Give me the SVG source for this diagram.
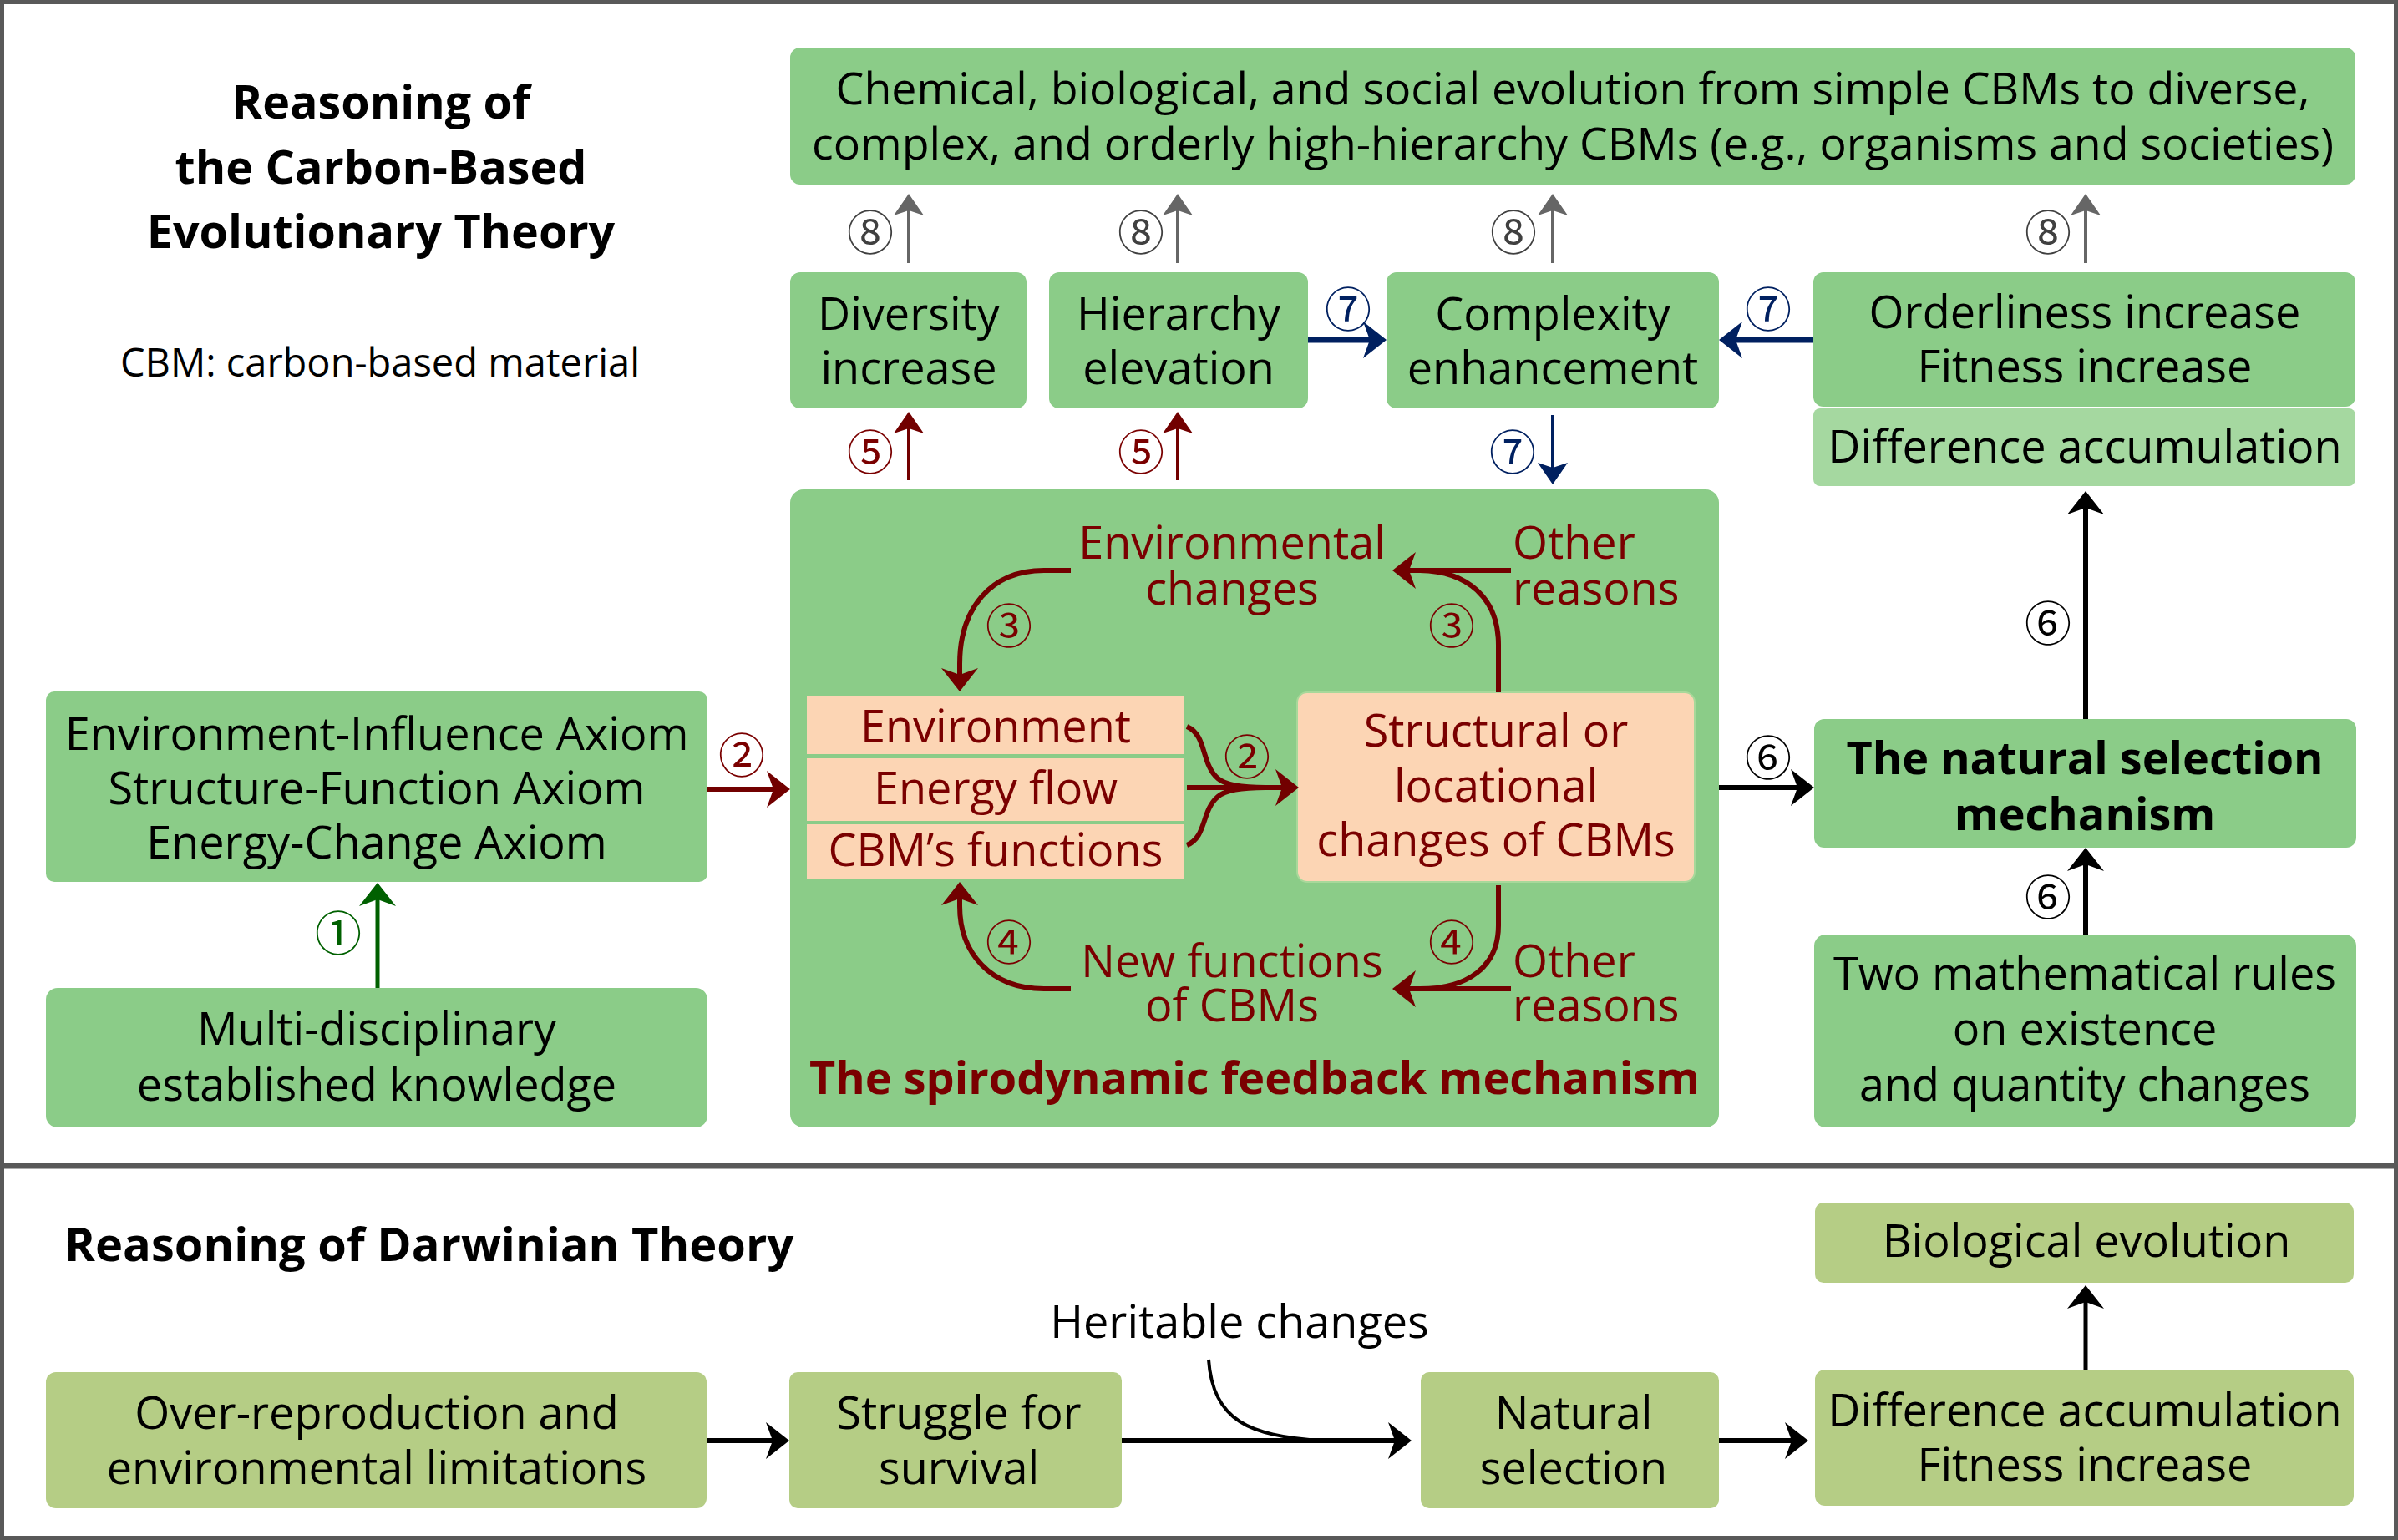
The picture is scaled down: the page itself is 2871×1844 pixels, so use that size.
<svg xmlns="http://www.w3.org/2000/svg" width="2871" height="1844" viewBox="0 0 2871 1844">
<style>
.t{font-family:'Open Sans','Noto Sans',sans-serif;font-size:54px;fill:#000;text-anchor:middle}
.b{font-weight:bold}
.r{fill:#7a0000}
.s{text-anchor:start}
.n{font-family:'Noto Sans CJK SC','DejaVu Sans',sans-serif;font-size:56px;text-anchor:middle}
.g{fill:#8bcc88}
.gl{fill:#a5d8a0}
.o{fill:#b5cd85}
.p{fill:#fcd5b4}
.cr{fill:none;stroke:#720000;stroke-width:6}
</style>
<defs>
<marker id="mR" markerUnits="userSpaceOnUse" markerWidth="30" markerHeight="46" refX="14" refY="22" orient="auto"><path d="M0,0 L28,22 L0,44 L8,22 z" fill="#720000"/></marker>
<marker id="mB" markerUnits="userSpaceOnUse" markerWidth="30" markerHeight="46" refX="14" refY="22" orient="auto"><path d="M0,0 L28,22 L0,44 L8,22 z" fill="#002060"/></marker>
<marker id="mK" markerUnits="userSpaceOnUse" markerWidth="30" markerHeight="46" refX="14" refY="22" orient="auto"><path d="M0,0 L28,22 L0,44 L8,22 z" fill="#000"/></marker>
<marker id="mG" markerUnits="userSpaceOnUse" markerWidth="30" markerHeight="46" refX="14" refY="22" orient="auto"><path d="M0,0 L28,22 L0,44 L8,22 z" fill="#006000"/></marker>
<marker id="mY" markerUnits="userSpaceOnUse" markerWidth="28" markerHeight="38" refX="12" refY="18" orient="auto"><path d="M0,0 L26,18 L0,36 L6,18 z" fill="#666"/></marker>
<marker id="mR2" markerUnits="userSpaceOnUse" markerWidth="28" markerHeight="38" refX="12" refY="18" orient="auto"><path d="M0,0 L26,18 L0,36 L6,18 z" fill="#720000"/></marker>
<marker id="mB2" markerUnits="userSpaceOnUse" markerWidth="28" markerHeight="38" refX="12" refY="18" orient="auto"><path d="M0,0 L26,18 L0,36 L6,18 z" fill="#002060"/></marker>
</defs>
<rect x="0" y="0" width="2871" height="1844" fill="#fff"/>
<rect x="2.5" y="2.5" width="2866" height="1839" fill="none" stroke="#595959" stroke-width="5"/>
<line x1="0" y1="1396" x2="2871" y2="1396" stroke="#595959" stroke-width="7"/>

<g id="title">
<text class="t b" x="456" y="142" style="font-size:55.6px">Reasoning of</text>
<text class="t b" x="456" y="220" style="font-size:55.6px">the Carbon-Based</text>
<text class="t b" x="456" y="297" style="font-size:55.6px">Evolutionary Theory</text>
<text class="t" x="455" y="451" style="font-size:47px">CBM: carbon-based material</text>
</g>

<g id="evolution">
<rect class="g" x="946" y="57" width="1874" height="164" rx="12"/>
<text class="t" x="1883" y="125" style="font-size:53.7px">Chemical, biological, and social evolution from simple CBMs to diverse,</text>
<text class="t" x="1883" y="191" style="font-size:53.7px">complex, and orderly high-hierarchy CBMs (e.g., organisms and societies)</text>
</g>
<g id="diversity">
<rect class="g" x="946" y="326" width="283" height="163" rx="12"/>
<text class="t" x="1088" y="395">Diversity</text>
<text class="t" x="1088" y="460">increase</text>
</g>
<g id="hierarchy">
<rect class="g" x="1256" y="326" width="310" height="163" rx="12"/>
<text class="t" x="1411" y="395">Hierarchy</text>
<text class="t" x="1411" y="460">elevation</text>
</g>
<g id="complexity">
<rect class="g" x="1660" y="326" width="398" height="163" rx="12"/>
<text class="t" x="1859" y="395">Complexity</text>
<text class="t" x="1859" y="460">enhancement</text>
</g>
<g id="orderliness">
<rect class="g" x="2171" y="326" width="649" height="161" rx="12"/>
<text class="t" x="2496" y="393">Orderliness increase</text>
<text class="t" x="2496" y="458">Fitness increase</text>
</g>
<g id="difference">
<rect class="gl" x="2171" y="489" width="649" height="93" rx="8"/>
<text class="t" x="2496" y="554">Difference accumulation</text>
</g>

<g id="axioms">
<rect class="g" x="55" y="828" width="792" height="228" rx="10"/>
<text class="t" x="451" y="898">Environment-Influence Axiom</text>
<text class="t" x="451" y="963">Structure-Function Axiom</text>
<text class="t" x="451" y="1028">Energy-Change Axiom</text>
</g>
<g id="knowledge">
<rect class="g" x="55" y="1183" width="792" height="167" rx="14"/>
<text class="t" x="451" y="1251">Multi-disciplinary</text>
<text class="t" x="451" y="1318">established knowledge</text>
</g>

<g id="spiro">
<rect class="g" x="946" y="586" width="1112" height="764" rx="16"/>
<rect class="p" x="966" y="833" width="452" height="70"/>
<rect class="p" x="966" y="908" width="452" height="75"/>
<rect class="p" x="966" y="987" width="452" height="65"/>
<text class="t r" x="1192" y="889">Environment</text>
<text class="t r" x="1192" y="963">Energy flow</text>
<text class="t r" x="1192" y="1037">CBM’s functions</text>
<rect class="p" x="1553" y="829" width="476" height="227" rx="12" stroke="#a8d89a" stroke-width="2"/>
<text class="t r" x="1791" y="894">Structural or</text>
<text class="t r" x="1791" y="960">locational</text>
<text class="t r" x="1791" y="1025">changes of CBMs</text>
<text class="t r" x="1475" y="669">Environmental</text>
<text class="t r" x="1475" y="724">changes</text>
<text class="t r s" x="1811" y="669">Other</text>
<text class="t r s" x="1811" y="724">reasons</text>
<text class="t r" x="1475" y="1170">New functions</text>
<text class="t r" x="1475" y="1223">of CBMs</text>
<text class="t r s" x="1811" y="1170">Other</text>
<text class="t r s" x="1811" y="1223">reasons</text>
<text class="t b r" x="1502" y="1310">The spirodynamic feedback mechanism</text>
</g>

<g id="natural-selection">
<rect class="g" x="2172" y="861" width="649" height="154" rx="12"/>
<text class="t b" x="2496" y="927">The natural selection</text>
<text class="t b" x="2496" y="994">mechanism</text>
</g>
<g id="math-rules">
<rect class="g" x="2172" y="1119" width="649" height="231" rx="14"/>
<text class="t" x="2496" y="1185">Two mathematical rules</text>
<text class="t" x="2496" y="1251">on existence</text>
<text class="t" x="2496" y="1318">and quantity changes</text>
</g>

<g id="darwin-title">
<text class="t b s" x="77" y="1510" style="font-size:56px">Reasoning of Darwinian Theory</text>
</g>
<g id="over-reproduction">
<rect class="o" x="55" y="1643" width="791" height="163" rx="12"/>
<text class="t" x="451" y="1711">Over-reproduction and</text>
<text class="t" x="451" y="1777">environmental limitations</text>
</g>
<g id="struggle">
<rect class="o" x="945" y="1643" width="398" height="163" rx="10"/>
<text class="t" x="1148" y="1711">Struggle for</text>
<text class="t" x="1148" y="1777">survival</text>
</g>
<g id="heritable">
<text class="t" x="1484" y="1602">Heritable changes</text>
</g>
<g id="natural">
<rect class="o" x="1701" y="1643" width="357" height="163" rx="10"/>
<text class="t" x="1884" y="1711">Natural</text>
<text class="t" x="1884" y="1777">selection</text>
</g>
<g id="diff-fitness">
<rect class="o" x="2173" y="1640" width="645" height="163" rx="12"/>
<text class="t" x="2496" y="1708">Difference accumulation</text>
<text class="t" x="2496" y="1773">Fitness increase</text>
</g>
<g id="bio-evolution">
<rect class="o" x="2173" y="1440" width="645" height="96" rx="10"/>
<text class="t" x="2498" y="1505">Biological evolution</text>
</g>

<g id="connectors">
<g stroke="#666" stroke-width="4" fill="none">
<path d="M1088,315 V246" marker-end="url(#mY)"/>
<path d="M1410,315 V246" marker-end="url(#mY)"/>
<path d="M1859,315 V246" marker-end="url(#mY)"/>
<path d="M2497,315 V246" marker-end="url(#mY)"/>
</g>
<g stroke="#720000" stroke-width="4" fill="none">
<path d="M1088,575 V507" marker-end="url(#mR2)"/>
<path d="M1410,575 V507" marker-end="url(#mR2)"/>
</g>
<g stroke="#002060" fill="none">
<path d="M1566,407 H1646" stroke-width="7" marker-end="url(#mB)"/>
<path d="M2171,407 H2072" stroke-width="7" marker-end="url(#mB)"/>
<path d="M1859,497 V566" stroke-width="4" marker-end="url(#mB2)"/>
</g>
<path d="M452,1183 V1071" stroke="#006000" stroke-width="5" fill="none" marker-end="url(#mG)"/>
<path d="M847,945 H932" stroke="#720000" stroke-width="6" fill="none" marker-end="url(#mR)"/>
<path class="cr" d="M1421,943 H1541" marker-end="url(#mR)"/>
<path class="cr" d="M1421,870 C1445,880 1438,915 1458,932 C1468,941 1490,943 1515,943"/>
<path class="cr" d="M1421,1012 C1445,1002 1438,971 1458,954 C1468,945 1490,943 1515,943"/>
<path class="cr" d="M1282,683 L1250,683 C1185,683 1149,730 1149,795 L1149,814" marker-end="url(#mR)"/>
<path class="cr" d="M1794,829 L1794,772 C1794,716 1757,684 1700,683"/>
<path class="cr" d="M1809,683 L1681,683" marker-end="url(#mR)"/>
<path class="cr" d="M1794,1060 L1794,1108 C1794,1158 1757,1184 1700,1184"/>
<path class="cr" d="M1809,1184 L1681,1184" marker-end="url(#mR)"/>
<path class="cr" d="M1282,1184 L1250,1184 C1185,1184 1149,1140 1149,1085 L1149,1070" marker-end="url(#mR)"/>
<g stroke="#000" stroke-width="6" fill="none">
<path d="M2058,943 H2158" marker-end="url(#mK)"/>
<path d="M2497,861 V602" marker-end="url(#mK)"/>
<path d="M2497,1119 V1029" marker-end="url(#mK)"/>
</g>
<g stroke="#000" stroke-width="6" fill="none">
<path d="M846,1725 H931" marker-end="url(#mK)"/>
<path d="M1343,1725 H1676" marker-end="url(#mK)"/>
<path d="M2058,1725 H2151" marker-end="url(#mK)"/>
<path d="M2497,1640 V1553" stroke-width="5" marker-end="url(#mK)"/>
<path d="M1447,1628 C1452,1700 1495,1721 1585,1725" stroke-width="4"/>
</g>
</g>

<g id="labels">
<text class="n" fill="#404040" x="1042" y="299">⑧</text>
<text class="n" fill="#404040" x="1366" y="299">⑧</text>
<text class="n" fill="#404040" x="1812" y="299">⑧</text>
<text class="n" fill="#404040" x="2452" y="299">⑧</text>
<text class="n" fill="#002060" x="1614" y="391">⑦</text>
<text class="n" fill="#002060" x="2117" y="391">⑦</text>
<text class="n" fill="#002060" x="1811" y="562">⑦</text>
<text class="n" fill="#7a0000" x="1042" y="562">⑤</text>
<text class="n" fill="#7a0000" x="1366" y="562">⑤</text>
<text class="n" fill="#006000" x="405" y="1138">①</text>
<text class="n" fill="#7a0000" x="888" y="925">②</text>
<text class="n" fill="#7a0000" x="1493" y="927">②</text>
<text class="n" fill="#7a0000" x="1208" y="770">③</text>
<text class="n" fill="#7a0000" x="1738" y="770">③</text>
<text class="n" fill="#7a0000" x="1208" y="1149">④</text>
<text class="n" fill="#7a0000" x="1738" y="1149">④</text>
<text class="n" fill="#000" x="2117" y="928">⑥</text>
<text class="n" fill="#000" x="2452" y="767">⑥</text>
<text class="n" fill="#000" x="2452" y="1095">⑥</text>
</g>
</svg>
